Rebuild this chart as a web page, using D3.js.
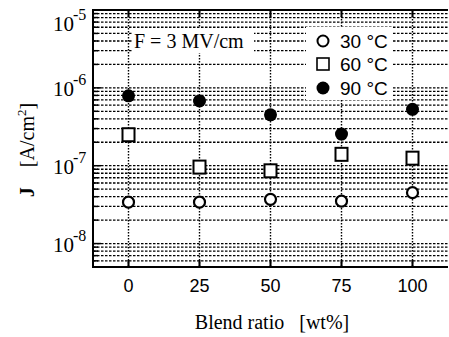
<!DOCTYPE html>
<html>
<head>
<meta charset="utf-8">
<script src="https://cdn.jsdelivr.net/npm/d3@7"></script>
<style>
  body { margin: 0; background: #fff; }
  svg { display: block; }
</style>
</head>
<body>
<div id="chart"></div>
<script>
// values
const blendRatio = [0, 25, 50, 75, 100];
const j30 = [3.4e-8, 3.4e-8, 3.7e-8, 3.5e-8, 4.5e-8];
const j60 = [2.5e-7, 9.6e-8, 8.6e-8, 1.4e-7, 1.25e-7];
const j90 = [7.9e-7, 6.8e-7, 4.5e-7, 2.55e-7, 5.3e-7];
const xTicks = [0, 25, 50, 75, 100];
const yExponents = [-5, -6, -7, -8];
const legendLabels = ['30 °C', '60 °C', '90 °C'];

const W = 449, H = 337;
const plotLeft = 93, plotRight = 448, plotTop = 10, plotBottom = 267;

const svg = d3.select('#chart').append('svg')
    .attr('width', W)
    .attr('height', H);

const x = d3.scaleLinear().domain([-12.5, 112.5]).range([plotLeft, plotRight]);
const y = d3.scaleLog().domain([5e-9, 1e-5]).range([plotBottom, plotTop]);

const serif = '"Liberation Serif", "DejaVu Serif", serif';
const narrow = '"Liberation Sans Narrow", "Liberation Sans", Arial, sans-serif';

// minor + major horizontal grid (every 1..9 x 10^n)
let gridVals = [];
for (let e = -9; e <= -6; e++) {
    for (let m = 1; m <= 9; m++) {
        let v = m * Math.pow(10, e);
        if (v > 5e-9 * 1.001 && v < 1e-5 * 0.999) gridVals.push({v: v, major: m === 1});
    }
}
svg.append('g').selectAll('line')
    .data(gridVals)
    .join('line')
    .attr('x1', plotLeft).attr('x2', plotRight)
    .attr('y1', d => y(d.v)).attr('y2', d => y(d.v))
    .attr('stroke', '#000')
    .attr('stroke-width', 1.3)
    .attr('stroke-dasharray', '2.5,1.5');

// vertical dotted grid
svg.append('g').selectAll('line')
    .data(xTicks)
    .join('line')
    .attr('x1', d => x(d)).attr('x2', d => x(d))
    .attr('y1', plotTop).attr('y2', plotBottom)
    .attr('stroke', '#000')
    .attr('stroke-width', 1.4)
    .attr('stroke-dasharray', '1.5,1.5');

// left ticks (solid start of the grid lines)
svg.append('g').selectAll('line')
    .data(gridVals)
    .join('line')
    .attr('x1', plotLeft).attr('x2', d => d.major ? plotLeft + 8 : plotLeft + 5)
    .attr('y1', d => y(d.v)).attr('y2', d => y(d.v))
    .attr('stroke', '#000')
    .attr('stroke-width', 1.5);

// top and bottom ticks
xTicks.forEach(t => {
    svg.append('line')
        .attr('x1', x(t)).attr('x2', x(t))
        .attr('y1', plotBottom).attr('y2', plotBottom - 7)
        .attr('stroke', '#000').attr('stroke-width', 2);
    svg.append('line')
        .attr('x1', x(t)).attr('x2', x(t))
        .attr('y1', plotTop).attr('y2', plotTop + 7)
        .attr('stroke', '#000').attr('stroke-width', 2);
});

// white boxes behind annotation and legend
svg.append('rect')
    .attr('x', 133).attr('y', 28).attr('width', 121).attr('height', 25)
    .attr('fill', '#fff');
svg.append('rect')
    .attr('x', 306).attr('y', 27).attr('width', 87).attr('height', 73)
    .attr('fill', '#fff');

// frame
svg.append('path')
    .attr('d', `M${plotRight},${plotTop}H${plotLeft}V${plotBottom}H${plotRight}`)
    .attr('fill', 'none')
    .attr('stroke', '#000')
    .attr('stroke-width', 2);

// x tick labels
svg.append('g').selectAll('text')
    .data(xTicks)
    .join('text')
    .attr('x', d => x(d))
    .attr('y', 292)
    .attr('text-anchor', 'middle')
    .attr('font-family', narrow)
    .attr('font-size', 18)
    .text(d => d);

// y tick labels 10^n
yExponents.forEach(e => {
    let yy = y(Math.pow(10, e)) + 8;
    if (e === -5) yy = 31;
    svg.append('text')
        .attr('x', 74)
        .attr('y', yy)
        .attr('text-anchor', 'end')
        .attr('font-family', serif)
        .attr('font-size', 21)
        .text('10');
    svg.append('text')
        .attr('x', 73)
        .attr('y', yy - 11)
        .attr('font-family', serif)
        .attr('font-size', 16)
        .text(String(e));
});

// axis titles
svg.append('text')
    .attr('x', 272)
    .attr('y', 329)
    .attr('text-anchor', 'middle')
    .attr('font-family', serif)
    .attr('font-size', 20)
    .attr('xml:space', 'preserve')
    .text('Blend ratio   [wt%]');

const yt = svg.append('text')
    .attr('transform', 'translate(34,150) rotate(-90)')
    .attr('text-anchor', 'middle')
    .attr('font-family', serif)
    .attr('font-size', 20)
    .attr('xml:space', 'preserve');
yt.append('tspan').attr('font-weight', 'bold').text('J');
yt.append('tspan').text('    [A/cm');
yt.append('tspan').attr('dy', -8).attr('font-size', 13).text('2');
yt.append('tspan').attr('dy', 8).text(']');

// annotation
svg.append('text')
    .attr('x', 134)
    .attr('y', 48)
    .attr('font-family', serif)
    .attr('font-size', 20)
    .text('F = 3 MV/cm');

// data markers
const pts = d => blendRatio.map((b, i) => ({x: b, v: d[i]}));

svg.append('g').selectAll('circle')
    .data(pts(j30))
    .join('circle')
    .attr('cx', d => x(d.x)).attr('cy', d => y(d.v))
    .attr('r', 5.5)
    .attr('fill', '#fff')
    .attr('stroke', '#000')
    .attr('stroke-width', 2.2);

svg.append('g').selectAll('rect')
    .data(pts(j60))
    .join('rect')
    .attr('x', d => x(d.x) - 6).attr('y', d => y(d.v) - 6.5)
    .attr('width', 12).attr('height', 13)
    .attr('fill', '#fff')
    .attr('stroke', '#000')
    .attr('stroke-width', 2);

svg.append('g').selectAll('circle')
    .data(pts(j90))
    .join('circle')
    .attr('cx', d => x(d.x)).attr('cy', d => y(d.v))
    .attr('r', 6.5)
    .attr('fill', '#000');

// legend
const legY = [41, 64, 88];
svg.append('circle')
    .attr('cx', 323).attr('cy', legY[0]).attr('r', 5.5)
    .attr('fill', '#fff').attr('stroke', '#000').attr('stroke-width', 2);
svg.append('rect')
    .attr('x', 317).attr('y', legY[1] - 6).attr('width', 12).attr('height', 12)
    .attr('fill', '#fff').attr('stroke', '#000').attr('stroke-width', 1.6);
svg.append('circle')
    .attr('cx', 323).attr('cy', legY[2]).attr('r', 6.5)
    .attr('fill', '#000');
legendLabels.forEach((l, i) => {
    svg.append('text')
        .attr('x', 340)
        .attr('y', legY[i] + 7)
        .attr('font-family', narrow)
        .attr('font-size', 19)
        .text(l);
});
</script>
</body>
</html>
